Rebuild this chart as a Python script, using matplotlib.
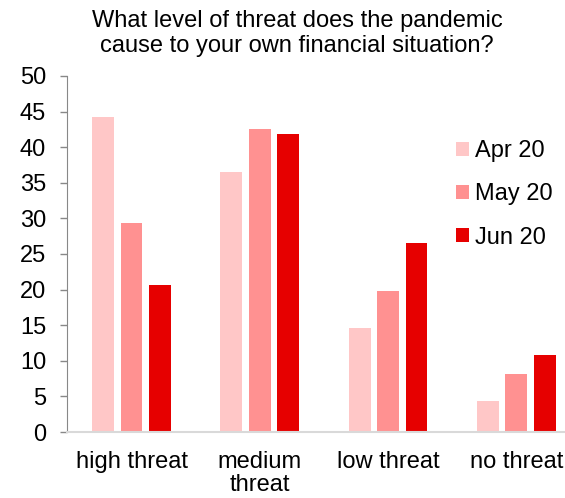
import numpy as np
import matplotlib.pyplot as plt

plt.rcParams['font.family'] = ['Liberation Sans', 'DejaVu Sans']

categories = ["high threat", "medium\nthreat", "low threat", "no threat"]
series_names = ["Apr 20", "May 20", "Jun 20"]
apr_20 = [44.3, 36.5, 14.6, 4.4]
may_20 = [29.3, 42.6, 19.8, 8.2]
jun_20 = [20.6, 41.8, 26.5, 10.8]
colors = ["#FFC7C7", "#FF9191", "#E60000"]

title = "What level of threat does the pandemic\ncause to your own financial situation?"

fig = plt.figure(figsize=(5.65, 4.98), dpi=100)
ax = fig.add_axes([67 / 565, 66 / 498, 498 / 565, 356 / 498])

x = np.arange(len(categories))
step = 0.222
width = 0.171
for i, (vals, name, col) in enumerate(zip([apr_20, may_20, jun_20], series_names, colors)):
    ax.bar(x + (i - 1) * step, vals, width, color=col, label=name)

ax.set_xlim(-0.503, 3.38)
ax.set_ylim(0, 50)
ax.set_yticks(np.arange(0, 51, 5))
ax.set_xticks(x)
ax.set_xticklabels(categories, linespacing=1.05)

fs = 17
ax.tick_params(axis='y', labelsize=fs, length=5, width=1, color='#888888', pad=10)
ax.tick_params(axis='x', labelsize=fs, length=0, pad=14)

for s in ['top', 'right']:
    ax.spines[s].set_visible(False)
ax.spines['left'].set_color('#888888')
ax.spines['bottom'].set_color('#D9D9D9')
ax.spines['bottom'].set_linewidth(1.5)

fig.text(297 / 565, 1 - 10 / 498, title, ha='center', va='top', fontsize=fs, linespacing=1.2)

ax.legend(loc='upper left', bbox_to_anchor=(456 / 565, 1 - 140 / 498),
          bbox_transform=fig.transFigure, frameon=False, fontsize=fs,
          handlelength=0.55, handleheight=0.55, handletextpad=0.25,
          labelspacing=0.9, borderpad=0, borderaxespad=0)

fig.savefig("out.png", dpi=100)
